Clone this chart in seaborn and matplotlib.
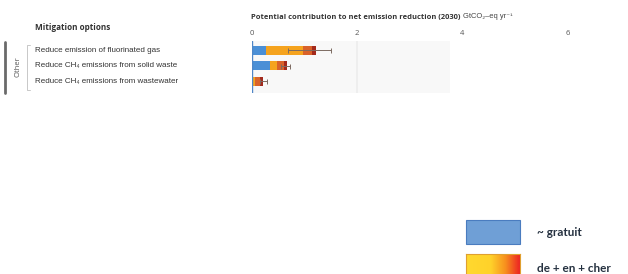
import numpy as np
import pandas as pd
import matplotlib
matplotlib.use("Agg")
import matplotlib.pyplot as plt
import matplotlib.transforms as mtransforms
from matplotlib.colors import LinearSegmentedColormap
from matplotlib.patches import Rectangle
import seaborn as sns

sns.set_theme(style="white")
plt.rcParams['font.family'] = ['Open Sans', 'DejaVu Sans']

# ---- data ----
options = ["Reduce emission of fluorinated gas",
           "Reduce CH\u2084 emissions from solid waste",
           "Reduce CH\u2084 emissions from wastewater"]
group_label = "Other"
seg_free = [0.27, 0.34, 0.00]
seg_low = [0.70, 0.14, 0.05]
seg_mid = [0.18, 0.13, 0.10]
seg_high = [0.07, 0.06, 0.06]
err_lo = [0.69, 0.55, 0.15]
err_hi = [1.51, 0.72, 0.29]
xticks = [0, 2, 4, 6]
legend_labels = ["~ gratuit", "de + en + cher"]

seg_colors = ["#4a8fd6", "#f5a31e", "#d9622a", "#a3291c"]

W, H = 628, 274
fig = plt.figure(figsize=(W / 100, H / 100), dpi=100)

def fx(px):
    return px / W

def fy(py):
    return 1 - py / H

ax = fig.add_axes([fx(252), fy(93), fx(620) - fx(252), fy(41) - fy(93)])

ax.axvspan(0, 3.77, color="#f8f8f8", zorder=0, lw=0)
ax.axvline(2, color="#ececec", lw=1.2, zorder=0.5)

segs = np.array([seg_free, seg_low, seg_mid, seg_high])
cum = np.cumsum(segs, axis=0)
df = pd.DataFrame({"option": options})
for i in range(len(segs) - 1, -1, -1):
    df["v"] = cum[i]
    sns.barplot(data=df, x="v", y="option", orient="h", color=seg_colors[i],
                width=0.58, saturation=1, ax=ax, zorder=2, linewidth=0)

totals = cum[-1]
ypos = np.arange(len(options))
ax.errorbar(x=totals, y=ypos,
            xerr=[totals - np.array(err_lo), np.array(err_hi) - totals],
            fmt="none", ecolor="#7d6b62", elinewidth=0.7, capsize=1.8,
            capthick=0.7, zorder=3)

ax.axvline(0, color="#4f86c6", lw=1.0, zorder=4)

ax.set_xlim(0, 7)
ax.set_ylim(2.75, -0.6)
ax.set_yticks([])
ax.set_ylabel("")
ax.set_xlabel("")
ax.xaxis.tick_top()
ax.set_xticks(xticks)
ax.set_xticklabels([str(t) for t in xticks], fontsize=5.5, color="#555555")
ax.tick_params(axis="x", length=0, pad=3)
for s in ax.spines.values():
    s.set_visible(False)
ax.patch.set_alpha(0)

# row labels
tr = mtransforms.blended_transform_factory(fig.transFigure, ax.transData)
for i, lab in enumerate(options):
    ax.text(fx(35), i, lab, transform=tr, fontsize=5.8, color="#333333",
            ha="left", va="center", family=["Liberation Sans", "DejaVu Sans"])

# headers
fig.text(fx(35), fy(27), "Mitigation options", fontsize=5.9, fontweight="bold",
         color="#333333", ha="left", va="center")
t1 = fig.text(fx(251), fy(17), "Potential contribution to net emission reduction (2030)",
              fontsize=5.4, fontweight="bold", color="#333333", ha="left", va="center")
ann = fig.text(0, 0, "GtCO\u2082\u2013eq yr\u207b\u00b9", fontsize=5.4,
               color="#444444", ha="left", va="center",
               family=["Liberation Sans", "DejaVu Sans"])
fig.canvas.draw()
bb = t1.get_window_extent()
ann.set_position((bb.x1 / fig.bbox.width + fx(3), fy(17)))

# group bar and bracket
fig.add_artist(plt.Line2D([fx(5), fx(5)], [fy(42), fy(93)], color="#6a6a6a", lw=2))
fig.text(fx(18), fy(67), group_label, rotation=90, fontsize=5.5, color="#555555",
         ha="center", va="center")
fig.add_artist(plt.Line2D([fx(30), fx(27), fx(27), fx(30)],
                          [fy(45), fy(45), fy(90), fy(90)], color="#c8c8c8", lw=0.7))

# legend
fig.add_artist(Rectangle((fx(466), fy(244)), fx(520) - fx(466), fy(220) - fy(244),
                         transform=fig.transFigure, facecolor="#6f9fd6",
                         edgecolor="#4a7cbf", lw=0.8))
gax = fig.add_axes([fx(466), fy(278), fx(520) - fx(466), fy(254) - fy(278)])
cmap = LinearSegmentedColormap.from_list(
    "grad", [(0, "#ffd92f"), (0.45, "#ffd22a"), (0.72, "#f7901e"), (1, "#ec1c24")])
gax.imshow(np.linspace(0, 1, 256)[None, :], aspect="auto", cmap=cmap)
gax.set_xticks([])
gax.set_yticks([])
for s in gax.spines.values():
    s.set_color("#e0a030")
    s.set_linewidth(0.8)

fig.text(fx(537), fy(232), legend_labels[0], fontsize=8.5, fontweight="bold",
         color="#253140", ha="left", va="center", family=["Lato", "DejaVu Sans"])
fig.text(fx(537), fy(268), legend_labels[1], fontsize=8.5, fontweight="bold",
         color="#253140", ha="left", va="center", family=["Lato", "DejaVu Sans"])

fig.savefig("out.png", dpi=100)
